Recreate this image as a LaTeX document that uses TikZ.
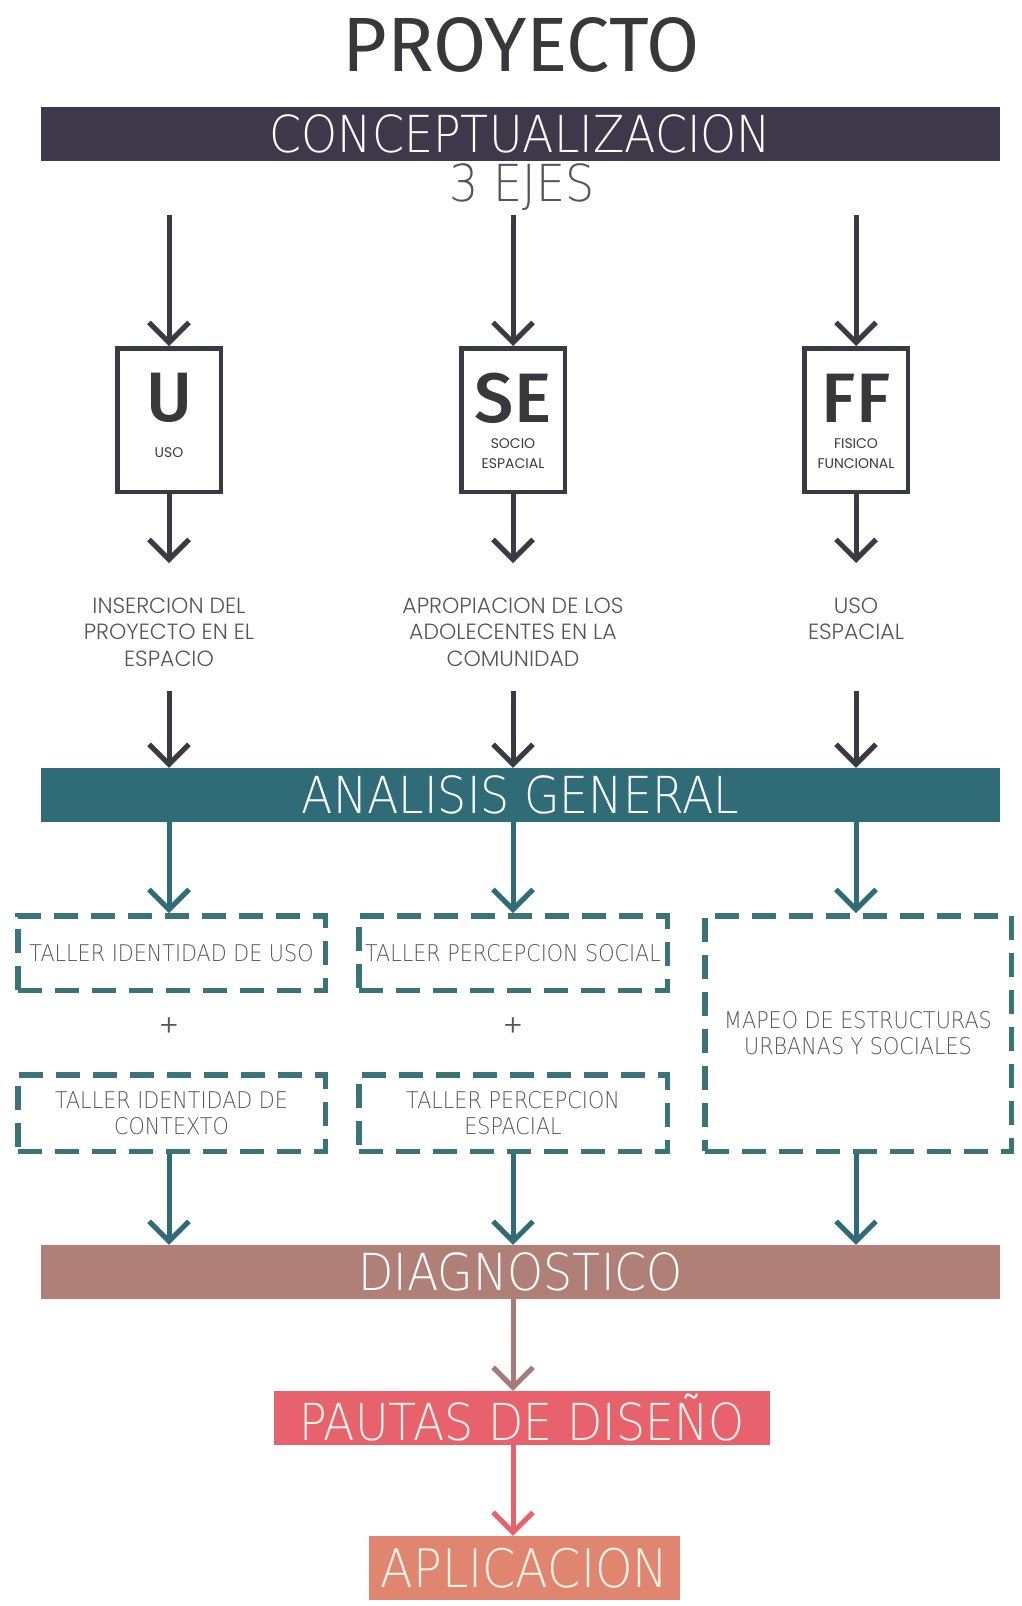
\documentclass[tikz,border=0pt]{standalone}
\usepackage{fontspec}
\usetikzlibrary{arrows.meta}
\setmainfont{Poppins}
\newfontfamily\headfont{Fira Sans}
\IfFontExistsTF{Fira Sans Medium}{\newfontfamily\titlefont{Fira Sans Medium}}{%
  \IfFontExistsTF{Fira Sans SemiBold}{\newfontfamily\titlefont{Fira Sans SemiBold}}{\newfontfamily\titlefont{Fira Sans}}}
\IfFontExistsTF{Poppins Light}{\newfontfamily\notefont{Poppins Light}}{\newfontfamily\notefont{Poppins}}
\newfontfamily\thinfont{DejaVu Sans ExtraLight}[FakeStretch=0.9]
\definecolor{eggplant}{RGB}{62, 56, 74}
\definecolor{charcoal}{RGB}{58, 58, 68}
\definecolor{petrol}{RGB}{47, 108, 120}
\definecolor{petrollight}{RGB}{58, 116, 120}
\definecolor{dustyrose}{RGB}{176, 128, 120}
\definecolor{rosewood}{RGB}{165, 122, 122}
\definecolor{watermelon}{RGB}{232, 98, 110}
\definecolor{apricot}{RGB}{224, 134, 112}
\definecolor{cream}{RGB}{250, 244, 230}
\definecolor{ink}{RGB}{55, 55, 60}
\definecolor{slate}{RGB}{85, 85, 88}
\tikzset{
  bar/.style={inner sep=0pt, minimum height=54pt, text=white, font=\thinfont\fontsize{51}{51}\selectfont},
  axisbox/.style={draw=charcoal, line width=4.5pt, minimum width=103.5pt, minimum height=143.5pt, inner sep=0pt},
  glyph/.style={inner sep=0pt, text=ink, font=\titlefont\fontsize{70}{70}\selectfont},
  tag/.style={inner sep=0pt, align=center, text=charcoal, font=\fontsize{14}{20}\selectfont},
  note/.style={inner sep=0pt, align=center, text=slate, font=\notefont\fontsize{22}{26.5}\selectfont},
  taller/.style={draw=petrollight, line width=5.5pt, dash pattern=on 24pt off 13pt, inner sep=0pt,
                 align=center, text=slate, font=\thinfont\fontsize{23}{26}\selectfont},
  darr/.style={draw=charcoal, line width=5pt, -{Straight Barb[length=20pt, width=40pt]}},
  tarr/.style={darr, draw=petrol},
}
\begin{document}
\begin{tikzpicture}[x=1pt, y=-1pt]
\fill[white] (0,0) rectangle (1021,1606);
\node[glyph, font=\headfont\fontsize{77}{77}\selectfont] (title) at (521, 45) {PROYECTO};

\node[bar, fill=eggplant,   minimum width=959pt]                     (concept)  at (520.5, 134.0) {CONCEPTUALIZACION};
\node[bar, text=slate, minimum height=0pt]                           (ejes)     at (522.0, 187.0) {3 EJES};

\coordinate (u0) at (169, 215);
\coordinate (s0) at (513, 215);
\coordinate (f0) at (856, 215);

\node[axisbox] (ubox) at (169, 420) {};
\node[axisbox] (sbox) at (513, 420) {};
\node[axisbox] (fbox) at (856, 420) {};
\node[glyph] (uletter) at (169, 398) {U};
\node[glyph] (sletter) at (513, 398) {SE};
\node[glyph] (fletter) at (856, 398) {FF};
\node[tag] (utag) at (169, 453) {USO};
\node[tag] (stag) at (513, 454) {SOCIO\\ESPACIAL};
\node[tag] (ftag) at (856, 454) {FISICO\\FUNCIONAL};

\draw[darr] (u0) -- (ubox);
\draw[darr] (s0) -- (sbox);
\draw[darr] (f0) -- (fbox);

\coordinate (u1) at (169, 563);
\coordinate (s1) at (513, 563);
\coordinate (f1) at (856, 563);
\draw[darr] (ubox) -- (u1);
\draw[darr] (sbox) -- (s1);
\draw[darr] (fbox) -- (f1);

\node[note] (uinfo) at (169, 632) {INSERCION DEL\\PROYECTO EN EL\\ESPACIO};
\node[note] (sinfo) at (513, 632) {APROPIACION DE LOS\\ADOLECENTES EN LA\\COMUNIDAD};
\node[note] (finfo) at (856, 619) {USO\\ESPACIAL};

\node[bar, fill=petrol,     minimum width=959pt]                     (analisis) at (520.5, 795.0) {ANALISIS GENERAL};

\coordinate (u2) at (169, 691);
\coordinate (s2) at (513, 691);
\coordinate (f2) at (856, 691);
\draw[darr] (u2) -- (analisis.north -| u2);
\draw[darr] (s2) -- (analisis.north -| s2);
\draw[darr] (f2) -- (analisis.north -| f2);

\node[taller, minimum width=307.5pt, minimum height=74.5pt]  (tuso)  at (171.5,  953.0) {TALLER IDENTIDAD DE USO};
\node[taller, minimum width=308.5pt, minimum height=74.5pt]  (tsoc)  at (513.0,  953.0) {TALLER PERCEPCION SOCIAL};
\node[taller, minimum width=307.5pt, minimum height=76.5pt]  (tctx)  at (171.5, 1113.0) {TALLER IDENTIDAD DE\\CONTEXTO};
\node[taller, minimum width=308.5pt, minimum height=76.5pt]  (tesp)  at (513.0, 1113.0) {TALLER PERCEPCION\\ESPACIAL};
\node[taller, minimum width=306.5pt, minimum height=235.5pt] (mapeo) at (858.0, 1033.5) {MAPEO DE ESTRUCTURAS\\URBANAS Y SOCIALES};
\node[note, font=\notefont\fontsize{30}{30}\selectfont] (uplus) at (169, 1027) {+};
\node[note, font=\notefont\fontsize{30}{30}\selectfont] (splus) at (513, 1027) {+};

\draw[tarr] (analisis.south -| ubox) -- (tuso.north -| ubox);
\draw[tarr] (analisis.south -| sbox) -- (tsoc.north -| sbox);
\draw[tarr] (analisis.south -| fbox) -- (mapeo.north -| fbox);

\node[bar, fill=dustyrose,  minimum width=959pt]                     (diag)     at (520.5, 1272.0) {DIAGNOSTICO};

\draw[tarr] (tctx.south -| ubox)  -- (diag.north -| ubox);
\draw[tarr] (tesp.south -| sbox)  -- (diag.north -| sbox);
\draw[tarr] (mapeo.south -| fbox) -- (diag.north -| fbox);

\node[bar, fill=watermelon, minimum width=496pt, text=cream]         (pautas)   at (522.0, 1418.0) {PAUTAS DE DISEÑO};
\node[bar, fill=apricot,    minimum width=311pt, minimum height=64pt, text=cream,
      font=\thinfont\fontsize{53}{53}\selectfont]                     (aplic)    at (524.5, 1568.0) {APLICACION};

\draw[darr, draw=rosewood]   (diag.south -| sbox)   -- (pautas.north -| sbox);
\draw[darr, draw=watermelon] (pautas.south -| sbox) -- (aplic.north -| sbox);
\end{tikzpicture}
\end{document}
